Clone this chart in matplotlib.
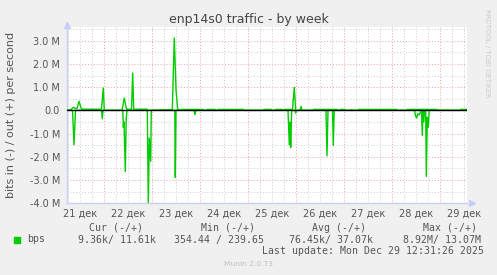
import matplotlib
matplotlib.use('Agg')
import matplotlib.pyplot as plt
from matplotlib.ticker import FixedLocator, FuncFormatter
from matplotlib.patches import Rectangle

# time axis in hours from 21 Dec 00:00, values in Mbit/s
out_hours = [5.35, 7.35, 8.1, 8.85, 9.35, 10.35, 11.35, 12.35, 12.85, 22.6, 23.5, 24.0,
             32.85, 34.0, 35.1, 37.6, 38.2, 38.7, 45.35, 45.85, 57.35, 58.0, 59.0, 59.85,
             60.7, 61.85, 62.35, 73.35, 73.85, 75.1, 75.35, 79.35, 79.85, 80.6, 80.85,
             93.35, 93.85, 103.35, 103.85, 107.35, 107.85, 109.35, 109.6, 112.85, 113.35,
             114.1, 118.1, 119.0, 119.7, 121.85, 122.35, 122.85, 128.35, 128.6, 140.35,
             140.85, 141.85, 142.1, 144.35, 144.85, 147.35, 147.6, 148.35, 150.85, 151.1,
             170.2, 170.6, 175.1, 175.35, 190.35, 190.85, 195.1, 195.35, 195.6, 201.85,
             202.1, 205.35]
out_mbps = [0.02, 0.02, 0.1, 0.13, 0.08, 0.08, 0.39, 0.1, 0.05, 0.05, 0.96, 0.0,
            0.0, 0.53, 0.05, 0.05, 1.61, 0.05, 0.05, 0.0, 0.03, 0.03, 3.12, 0.9,
            0.05, 0.0, 0.04, 0.04, 0.0, 0.0, 0.04, 0.04, 0.0, 0.0, 0.04,
            0.04, 0.0, 0.0, 0.04, 0.04, 0.0, 0.0, 0.04, 0.04, 0.0,
            0.04, 0.04, 0.99, 0.0, 0.0, 0.17, 0.0, 0.0, 0.04, 0.04,
            0.0, 0.0, 0.04, 0.04, 0.0, 0.0, 0.03, 0.0, 0.0, 0.04,
            0.04, 0.0, 0.0, 0.04, 0.04, 0.0, 0.0, 0.03, 0.0, 0.0,
            0.04, 0.04]

in_hours = [5.35, 8.1, 8.85, 9.6, 22.6, 23.0, 23.35, 33.25, 33.5, 33.85, 34.5, 34.95,
            35.35, 45.5, 46.0, 46.5, 47.2, 47.5, 59.25, 59.5, 59.85, 68.85, 69.35,
            69.85, 115.85, 116.5, 116.85, 117.2, 117.7, 119.35, 119.7, 120.1, 134.85,
            135.35, 135.85, 138.1, 138.5, 138.95, 179.1, 179.7, 180.2, 180.7, 181.35,
            182.6, 183.0, 183.35, 183.75, 184.1, 184.7, 185.0, 185.5, 186.0, 186.45,
            205.35]
in_mbps = [0.0, 0.0, -1.48, 0.0, 0.0, -0.36, 0.0, 0.0, -0.73, -0.5, -2.64, -0.4,
           0.0, 0.0, -3.98, -1.2, -2.2, 0.0, 0.0, -2.89, 0.0, 0.0, -0.19,
           0.0, 0.0, -1.48, -0.5, -1.6, 0.0, 0.0, -0.12, 0.0, 0.0,
           -1.96, 0.0, 0.0, -1.51, 0.0, 0.0, -0.25, -0.33, -0.15, -0.2,
           0.0, -1.08, 0.0, -0.5, 0.0, 0.0, -2.85, -0.3, -0.73, 0.0,
           0.0]

day_labels = ['21 дек', '22 дек', '23 дек', '24 дек', '25 дек', '26 дек', '27 дек', '28 дек', '29 дек']
y_ticks = [-4, -3, -2, -1, 0, 1, 2, 3]
y_labels = ['-4.0 M', '-3.0 M', '-2.0 M', '-1.0 M', '0.0', '1.0 M', '2.0 M', '3.0 M']

legend_head = ['Cur (-/+)', 'Min (-/+)', 'Avg (-/+)', 'Max (-/+)']
legend_vals = ['9.36k/ 11.61k', '354.44 / 239.65', '76.45k/ 37.07k', '8.92M/ 13.07M']

W, H = 497, 275
GREEN = '#00cc00'
TXT = '#555555'


def fx(x):
    return x / W


def fy(y):
    return 1 - y / H


fig = plt.figure(figsize=(W / 100, H / 100), dpi=100, facecolor='#f0f0f0')
ax = fig.add_axes([fx(67), fy(203.1), 400 / W, 175.8 / H])
ax.set_facecolor('white')

ax.set_xlim(5.35, 205.35)
ax.set_ylim(-4.0, 3.58)

# grid: red every day, gray every 6 hours / 0.5 M
ax.xaxis.set_major_locator(FixedLocator([24 * k for k in range(1, 9)]))
ax.xaxis.set_minor_locator(FixedLocator([6 * k for k in range(1, 35)]))
ax.yaxis.set_major_locator(FixedLocator(y_ticks))
ax.yaxis.set_minor_locator(FixedLocator([v / 2 for v in range(-8, 8)]))
ax.grid(which='minor', color='#cccccc', linestyle=(0, (1, 2)), linewidth=0.7)
ax.grid(which='major', color='#f2a0a0', linestyle=(0, (1, 2)), linewidth=0.7)
ax.set_axisbelow(True)

ax.xaxis.set_major_formatter(FuncFormatter(lambda v, p: ''))
label_pos = [12 + 24 * i for i in range(len(day_labels))]


def day_fmt(v, p):
    for pos, lab in zip(label_pos, day_labels):
        if abs(v - pos) < 0.1:
            return lab
    return ''


ax.xaxis.set_minor_formatter(FuncFormatter(day_fmt))
ax.set_yticklabels(y_labels)
ax.tick_params(which='both', length=0, labelsize=7, labelcolor=TXT)
ax.tick_params(axis='x', which='minor', pad=4)
ax.tick_params(axis='y', pad=5)

for s in ['top', 'right']:
    ax.spines[s].set_visible(False)
for s in ['left', 'bottom']:
    ax.spines[s].set_color('#c8cdf6')
    ax.spines[s].set_linewidth(1.0)
ax.plot([1.012], [0], marker='>', color='#c8cdf6', markersize=4, transform=ax.transAxes, clip_on=False)
ax.plot([0], [1.012], marker='^', color='#c8cdf6', markersize=4, transform=ax.transAxes, clip_on=False)

ax.plot(out_hours, out_mbps, color=GREEN, linewidth=1.0, zorder=3)
ax.plot(in_hours, in_mbps, color=GREEN, linewidth=1.0, zorder=3)
ax.axhline(0, color='black', linewidth=1.0, zorder=4)

fig.text(fx(248.5), fy(19.5), 'enp14s0 traffic - by week', ha='center', va='center',
         fontsize=9, color='#444444')
fig.text(fx(11), fy(115), 'bits in (-) / out (+) per second', rotation=90, ha='center',
         va='center', fontsize=8, color=TXT)
fig.text(fx(487), fy(53.5), 'RRDTOOL / TOBI OETIKER', rotation=270, ha='center', va='center',
         fontsize=5, color='#cccccc')

# legend
mono = 'DejaVu Sans Mono'
fig.patches.append(Rectangle((fx(14), fy(242.5)), 5.5 / W, 5.5 / H, color=GREEN,
                             transform=fig.transFigure))
fig.text(fx(26.7), fy(239.5), 'bps', family=mono, fontsize=7.1, color=TXT, va='center')
for x, t in zip([89.3, 201, 312.3, 422.7], legend_head):
    fig.text(fx(x), fy(228), t, family=mono, fontsize=7.1, color=TXT, va='center')
for x, t in zip([78.3, 174, 289.3, 403.3], legend_vals):
    fig.text(fx(x), fy(239.5), t, family=mono, fontsize=7.1, color=TXT, va='center')
fig.text(fx(261.7), fy(251.5), 'Last update: Mon Dec 29 12:31:26 2025', family=mono,
         fontsize=7.1, color=TXT, va='center')
fig.text(fx(248), fy(264), 'Munin 2.0.73', ha='center', va='center', fontsize=5.4,
         color='#c0c0c0')

fig.savefig('out.png', dpi=100, facecolor=fig.get_facecolor())
